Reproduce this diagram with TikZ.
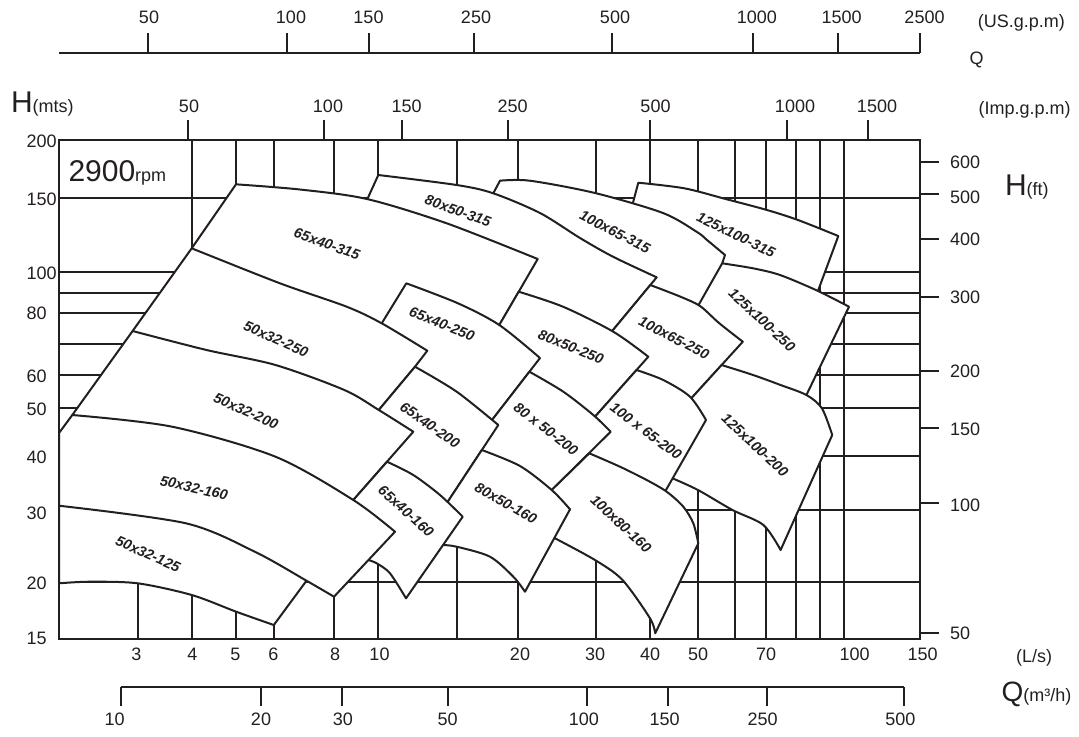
\documentclass[tikz,border=0pt]{standalone}
\usepackage{fontspec}
\setmainfont{Liberation Sans}
\definecolor{ink}{RGB}{35,31,32}
\begin{document}
\begin{tikzpicture}[x=0.5pt,y=-0.5pt,color=ink,line width=1pt,
  tile/.style={draw=ink,fill=white,line width=1pt,line join=round},
  gline/.style={draw=ink,line width=1pt},
  zone/.style={font=\fontsize{7.2}{8}\selectfont\bfseries\itshape,inner sep=0pt},
  num/.style={font=\fontsize{9}{10}\selectfont,inner sep=0pt}]
\useasboundingbox (0,0) rectangle (1079,736);
\foreach \x in {192,236,274,334,378,457,518,596,650,698,735,766,796,820,844}
  \draw[gline] (\x,140) -- (\x,639);
\draw[gline] (138,583) -- (138,639);
\foreach \y in {198,272,293,313,344,375,408,456,510,582}
  \draw[gline] (59,\y) -- (920,\y);
\draw[tile] plot[smooth] coordinates {(59,500) (186,518) (254.8,546) (310.7,575)} -- (273.8,625) -- plot[smooth] coordinates {(273.8,625) (236.2,611.7) (191.8,595) (137.7,583.3) (89.5,581.7) (59,583.3)} -- cycle;
\draw[tile] plot[smooth] coordinates {(638.3,182.7) (684.4,188.3) (725.7,199) (767,210) (798,220) (838.3,236)} -- (818.3,290) -- (815,298) -- (760,281) -- (728,277) -- (712,250) -- (650,216) -- (631,210) -- cycle;
\draw[tile] plot[smooth] coordinates {(500,180.7) (530,180.7) (595,193) (663,213) (697,232) (707,240) (725,255)} -- (722.2,263.3) -- (714,290) -- (700,316) -- (630,300) -- (600,262) -- (545,228) -- (487,205) -- cycle;
\draw[tile] plot[smooth] coordinates {(378.3,175) (456.7,185) (493.3,193.3) (540,213) (580,238) (613,256.7) (656.7,277.3)} -- (612.2,331) -- (606,338) -- (545,318) -- (505,306) -- (460,240) -- (372,208) -- (364.2,206) -- cycle;
\draw[tile] plot[smooth] coordinates {(236,184.3) (300,189.5) (367,199) (446.7,223.3) (537.7,259)} -- (499,325.7) -- (494,334) -- (430,316) -- (385,333) -- (346.7,313) -- (280,290) -- (200,257) -- (191.7,248.3) -- cycle;
\draw[tile] plot[smooth] coordinates {(722.2,263.3) (753,268.3) (780,275) (817,290.5) (849,306.7)} -- (806.4,395) -- (802,402) -- (760,392) -- (725,400) -- (700,335) -- (694,313) -- cycle;
\draw[tile] plot[smooth] coordinates {(650.3,285) (680,296.5) (700,306) (719,323) (742.8,341.7)} -- (691.3,398.3) -- (681.6,409) -- (660,398) -- (620,380) -- (606.4,338) -- cycle;
\draw[tile] plot[smooth] coordinates {(518.7,291.7) (563,306.7) (613.3,331.7) (648.3,356.7)} -- (595,416.7) -- (590,423) -- (560,400) -- (520,375) -- (494,334) -- cycle;
\draw[tile] plot[smooth] coordinates {(406.3,283.3) (458,303.3) (499.3,325) (540,358)} -- (492,420) -- (488,426) -- (455,405) -- (420,390) -- (395,380) -- (385,335) -- (378.2,329) -- cycle;
\draw[tile] plot[smooth] coordinates {(191.7,248.3) (280,283.3) (346.7,306.7) (381.7,323.3) (427.3,350.7)} -- (415,366.7) -- (378.8,410) -- (374,416) -- plot[smooth] coordinates {(374,416) (344.4,396) (275.5,371) (206.6,356) (140,337)} -- (132.6,331) -- cycle;
\draw[tile] plot[smooth] coordinates {(721.6,365) (753.1,375) (780.6,385) (806.4,395) (821.9,408.3) (832.2,435)} -- (780.6,550) -- plot[smooth] coordinates {(780.6,550) (763.4,525) (732.5,510) (698,490) (672.5,478.3)} -- (668,470) -- (681.6,409) -- (691.3,398.3) -- cycle;
\draw[tile] plot[smooth] coordinates {(636.5,370) (663.3,380) (690,396.7) (706,420)} -- (665,491.7) -- (661,498) -- (620,478) -- (585,478) -- (560,445) -- (590,423) -- (595,416.7) -- cycle;
\draw[tile] plot[smooth] coordinates {(529.4,371.7) (563.3,391.7) (593.3,415) (610.7,431.7)} -- (551.7,490) -- (547,497) -- (515,472) -- (478,463) -- (465,455) -- (487,428) -- (492,420) -- cycle;
\draw[tile] plot[smooth] coordinates {(415,366.7) (456.7,391.7) (498.3,425)} -- (446.7,503.3) -- (443,509) -- (415,500) -- (372,468) -- (374,416) -- (378.8,410) -- cycle;
\draw[tile] plot[smooth] coordinates {(132.6,331) (206.6,350) (275.5,365) (344.4,390) (378.8,410) (413.3,431.7)} -- (353.3,500) -- (349,505) -- plot[smooth] coordinates {(349,505) (275.5,463) (172.2,433) (76,422)} -- (72.3,415) -- cycle;
\draw[tile] plot[smooth] coordinates {(589.3,453.3) (620,466.7) (646.7,480) (666.7,491.7) (683.3,506.7) (693.3,523.3) (698.3,543.3)} -- (655.2,633.3) -- plot[smooth] coordinates {(655.2,633.3) (650,618.3) (622.5,580) (595,560) (555,538.3)} -- (548,520) -- (545,497) -- (551.7,490) -- cycle;
\draw[tile] plot[smooth] coordinates {(481.8,450) (520,466) (551.7,490) (570,509.3)} -- (525,591.7) -- plot[smooth] coordinates {(525,591.7) (513.3,576.7) (490,556.7) (456.7,546.7) (443,545)} -- (440,528) -- (446.7,503.3) -- cycle;
\draw[tile] plot[smooth] coordinates {(387,461.7) (413.3,475) (440,495) (462.7,516.7)} -- (406,598.3) -- plot[smooth] coordinates {(406,598.3) (390,573.3) (376.7,563.3) (368.3,560)} -- (360,540) -- (349,505) -- (353.3,500) -- cycle;
\draw[tile] plot[smooth] coordinates {(72.3,415) (172.2,426.7) (275.5,456.7) (353.3,500) (395,531.7)} -- (334,596.7) -- plot[smooth] coordinates {(334,596.7) (306.5,580.7) (254.8,551.7) (186,523.3) (59,505.7)} -- (59,433) -- cycle;
\draw (59,140) rectangle (920,639);
\draw (59,53) -- (920,53);
\foreach \x in {148,287,369,474,612,753,838,920}
  \draw (\x,33) -- (\x,53);
\foreach \x in {188,324,402,508,650,787,868}
  \draw (\x,120) -- (\x,140);
\foreach \y in {162,194,239,297,371,428,503,633}
  \draw (920,\y) -- (939,\y);
\draw (121,687) -- (904,687);
\foreach \x in {121,261,342,448,587,668,767,904}
  \draw (\x,687) -- (\x,706);
\foreach \x/\t [count=\i] in {149/50,291/100,368.5/150,476/250,615/500,756.8/1000,841.6/1500,924.5/2500}
  \node[num] (us\i) at (\x,17) {\t};
\foreach \x/\t [count=\i] in {189/50,328/100,406.7/150,512.6/250,655.5/500,795/1000,877/1500}
  \node[num] (imp\i) at (\x,106.7) {\t};
\foreach \y/\t [count=\i] in {140.8/200,199/150,273/100,313/80,376/60,409/50,457/40,513.5/30,583/20,638/15}
  \node[num,anchor=west] (hm\i) at (25.5,\y) {\t};
\foreach \y/\t [count=\i] in {162.5/600,197/500,239.5/400,297.3/300,371.7/200,429.3/150,505/100,633/50}
  \node[num,anchor=west] (hf\i) at (949,\y) {\t};
\foreach \x/\t [count=\i] in {136.5/3,192.3/4,235.5/5,273.4/6,335/8,379.5/10,520/20,595/30,650/40,698/50,766/70,854.5/100,922.6/150}
  \node[num] (ls\i) at (\x,654.5) {\t};
\foreach \x/\t [count=\i] in {114.6/10,261/20,342.8/30,447.7/50,583.8/100,664.6/150,762.6/250,900.4/500}
  \node[num] (mh\i) at (\x,719.7) {\t};
\node[num] (usu) at (1021.3,23.3) {(US.g.p.m)};
\node[num] (Q1) at (976.6,59.5) {Q};
\node[num] (impu) at (1024.7,110) {(Imp.g.p.m)};
\node[num] (lsu) at (1034,658.3) {(L/s)};
\node[num,anchor=base west] (Hm) at (10,112.7) {{\fontsize{15}{15}\selectfont H}(mts)};
\node[num,anchor=base west] (Hf) at (1004,195) {{\fontsize{15}{15}\selectfont H}(ft)};
\node[num,anchor=base west] (Q2) at (1000.5,701) {{\fontsize{14}{14}\selectfont Q}(m³/h)};
\node[num,anchor=base west] (rpm) at (67.5,181.7) {{\fontsize{15}{15}\selectfont 2900}rpm};
\node[zone,rotate=-20] (A1) at (327,244) {65x40-315};
\node[zone,rotate=-20] (A2) at (458,211) {80x50-315};
\node[zone,rotate=-27] (A3) at (615,232) {100x65-315};
\node[zone,rotate=-26] (A4) at (736,235) {125x100-315};
\node[zone,rotate=-24] (B1) at (276,339) {50x32-250};
\node[zone,rotate=-22] (B2) at (442,324) {65x40-250};
\node[zone,rotate=-22] (B3) at (571,347) {80x50-250};
\node[zone,rotate=-27] (B4) at (674,338) {100x65-250};
\node[zone,rotate=-43] (B5) at (762,320) {125x100-250};
\node[zone,rotate=-24] (C1) at (246,411) {50x32-200};
\node[zone,rotate=-35] (C2) at (430,425) {65x40-200};
\node[zone,rotate=-38] (C3) at (546,429) {80 x 50-200};
\node[zone,rotate=-37] (C4) at (646,431) {100 x 65-200};
\node[zone,rotate=-43] (C5) at (755,445) {125x100-200};
\node[zone,rotate=-13] (D1) at (194,488) {50x32-160};
\node[zone,rotate=-42] (D2) at (406,511) {65x40-160};
\node[zone,rotate=-30] (D3) at (506,503) {80x50-160};
\node[zone,rotate=-43] (D4) at (621,524) {100x80-160};
\node[zone,rotate=-24] (E1) at (148,554) {50x32-125};
\end{tikzpicture}
\end{document}
